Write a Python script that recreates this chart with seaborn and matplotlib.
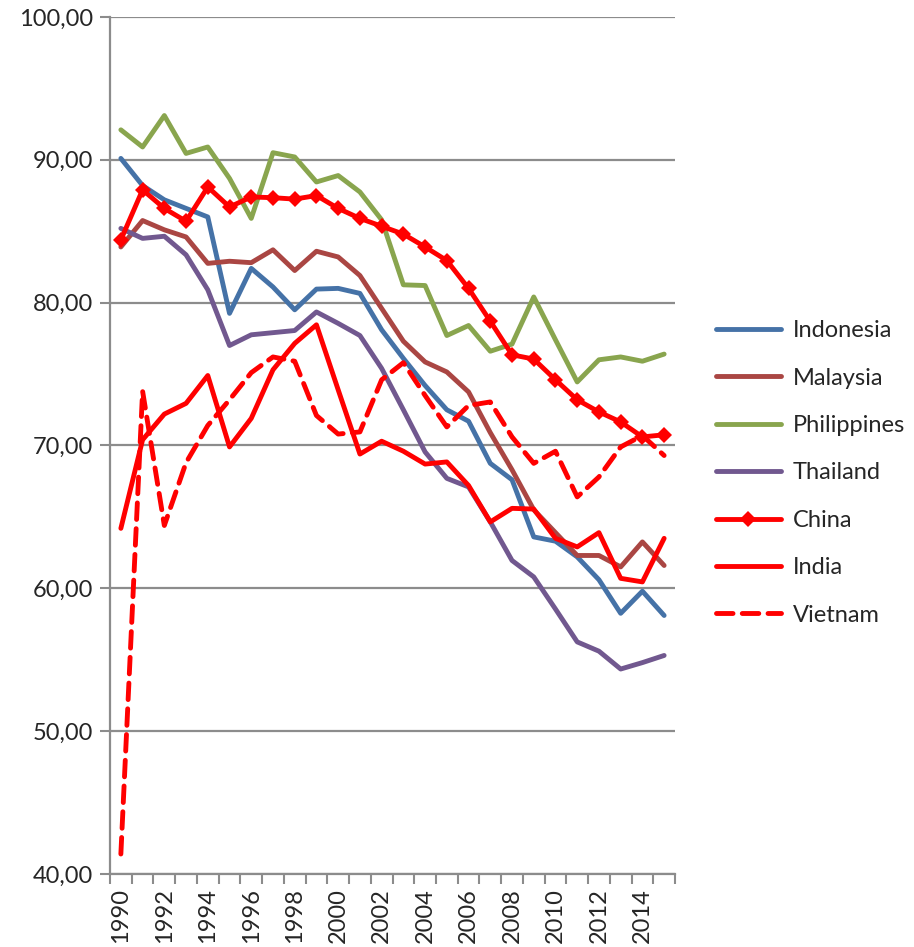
import matplotlib
matplotlib.use("Agg")
import matplotlib.pyplot as plt
import numpy as np
import pandas as pd
import seaborn as sns
from matplotlib.ticker import FixedLocator, FuncFormatter

years = list(range(1990, 2016))

indonesia = [90.1, 88.2, 87.2, 86.6, 86.0, 79.25, 82.4, 81.1, 79.5, 80.95, 81.0, 80.65, 78.1,
             76.1, 74.2, 72.5, 71.7, 68.75, 67.6, 63.6, 63.3, 62.2, 60.6, 58.25, 59.8, 58.1]
malaysia = [83.9, 85.75, 85.1, 84.6, 82.75, 82.9, 82.8, 83.7, 82.25, 83.6, 83.2, 81.9, 79.6,
            77.3, 75.85, 75.15, 73.75, 70.9, 68.3, 65.5, 63.9, 62.3, 62.3, 61.5, 63.25, 61.6]
philippines = [92.1, 90.9, 93.1, 90.45, 90.9, 88.7, 85.9, 90.5, 90.2, 88.45, 88.9, 87.75, 85.8,
               81.25, 81.2, 77.7, 78.4, 76.6, 77.1, 80.4, 77.4, 74.45, 76.0, 76.2, 75.9, 76.4]
thailand = [85.2, 84.5, 84.65, 83.35, 80.9, 77.0, 77.75, 77.9, 78.05, 79.35, 78.55, 77.7, 75.4,
            72.5, 69.55, 67.7, 67.1, 64.65, 61.95, 60.8, 58.55, 56.25, 55.6, 54.35, 54.8, 55.3]
china = [84.4, 87.9, 86.6, 85.7, 88.1, 86.7, 87.4, 87.35, 87.25, 87.5, 86.6, 85.9, 85.35,
         84.8, 83.9, 82.95, 81.0, 78.7, 76.35, 76.05, 74.6, 73.2, 72.35, 71.65, 70.6, 70.75]
india = [64.2, 70.4, 72.2, 72.95, 74.9, 69.9, 71.9, 75.3, 77.15, 78.45, 73.9, 69.4, 70.3,
         69.6, 68.7, 68.85, 67.2, 64.65, 65.6, 65.55, 63.5, 62.9, 63.9, 60.7, 60.45, 63.5]
vietnam = [41.4, 73.8, 64.4, 68.8, 71.4, 73.2, 75.1, 76.2, 75.9, 72.1, 70.8, 70.95, 74.6,
           75.8, 73.5, 71.3, 72.8, 73.05, 70.6, 68.75, 69.6, 66.4, 67.8, 69.9, 70.7, 69.3]

series = {
    "Indonesia": indonesia,
    "Malaysia": malaysia,
    "Philippines": philippines,
    "Thailand": thailand,
    "China": china,
    "India": india,
    "Vietnam": vietnam,
}
colors = {
    "Indonesia": "#4572A7",
    "Malaysia": "#AA4643",
    "Philippines": "#89A54E",
    "Thailand": "#71588F",
    "China": "#FF0000",
    "India": "#FF0000",
    "Vietnam": "#FF0000",
}

sns.set_style("white")
plt.rcParams["font.family"] = ["Lato", "DejaVu Sans"]

fig = plt.figure(figsize=(9.14, 9.47), dpi=100)
ax = fig.add_axes([110 / 914, 1 - 874 / 947, 565 / 914, 857 / 947])

pos = np.arange(len(years))
for name, vals in series.items():
    df = pd.DataFrame({"x": pos, "y": vals})
    kw = dict(color=colors[name], linewidth=3.5, label=name)
    if name == "China":
        kw.update(marker="D", markersize=8.5, markeredgewidth=0)
    sns.lineplot(data=df, x="x", y="y", ax=ax, **kw)
    if name == "Vietnam":
        ln = ax.lines[-1]
        ln.set_dashes((3.4, 1.9))
        ln.set_dash_capstyle("round")

ax.set_xlim(-0.5, len(years) - 0.5)
ax.set_ylim(40, 100)
ax.set_xlabel("")
ax.set_ylabel("")

ax.set_yticks(np.arange(40, 101, 10))
ax.yaxis.set_major_formatter(FuncFormatter(lambda v, p: f"{v:.2f}".replace(".", ",")))
ax.grid(axis="y", color="#8c8c8c", linewidth=1.6)
ax.set_axisbelow(True)

ax.set_xticks(pos[::2])
ax.set_xticklabels([str(y) for y in years[::2]], rotation=90)
ax.xaxis.set_minor_locator(FixedLocator(np.arange(-0.5, len(years), 1.0)))
ax.tick_params(axis="x", which="major", length=0, labelsize=17, pad=10)
ax.tick_params(axis="x", which="minor", length=7, width=1.5, color="#8c8c8c", direction="out")
ax.tick_params(axis="y", which="major", length=7, width=1.5, color="#8c8c8c",
               direction="out", labelsize=17, pad=5)
ax.tick_params(bottom=True, left=True, which="both")

for s in ["top", "right"]:
    ax.spines[s].set_visible(False)
for s in ["left", "bottom"]:
    ax.spines[s].set_color("#8c8c8c")
    ax.spines[s].set_linewidth(1.6)

ax.legend(loc="center left", bbox_to_anchor=(1.035, 0.468), frameon=False, fontsize=17,
          handlelength=2.75, handletextpad=0.5, labelspacing=1.12)

fig.savefig("out.png", dpi=100)
